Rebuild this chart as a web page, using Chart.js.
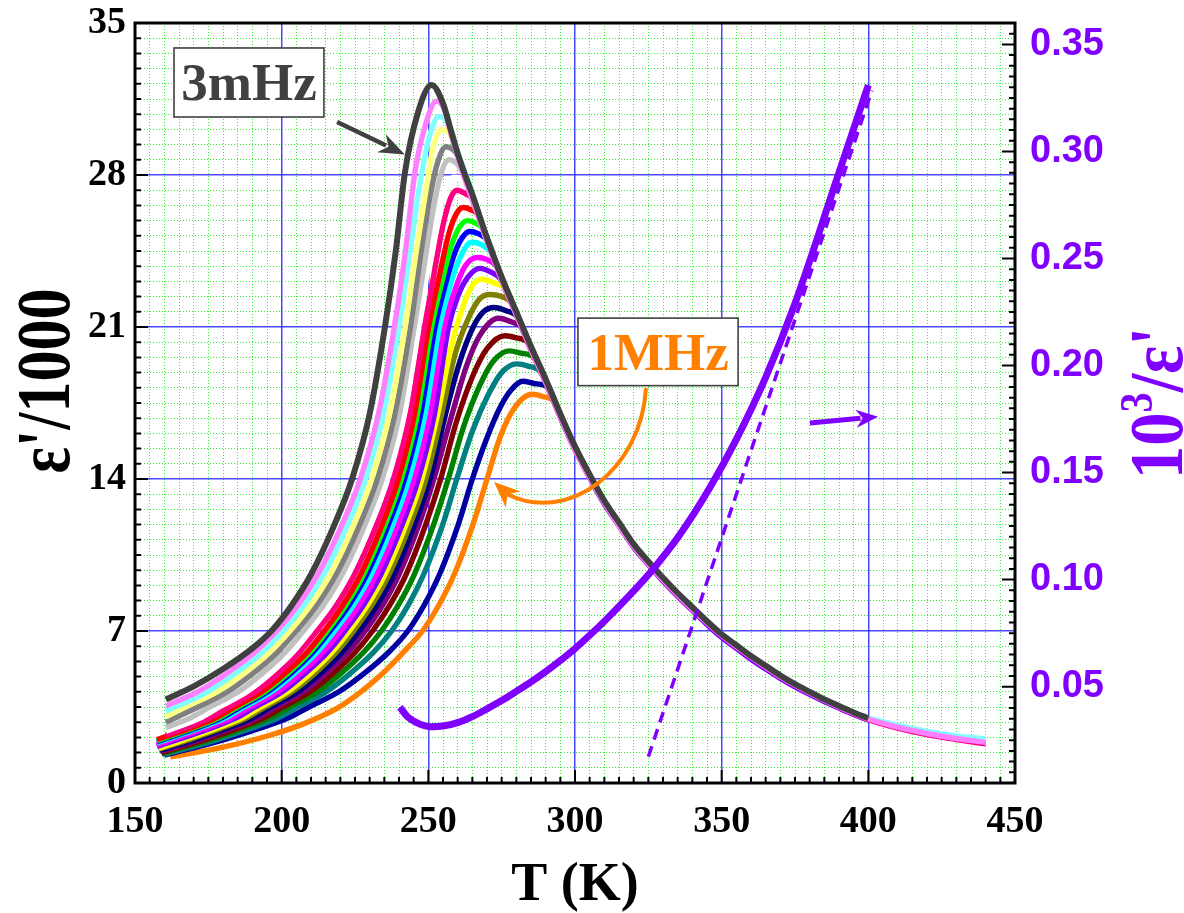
<!DOCTYPE html>
<html>
<head>
<meta charset="utf-8">
<script src="https://cdn.jsdelivr.net/npm/chart.js@4.4.1/dist/chart.umd.min.js"></script>
<style>
  html, body { margin: 0; padding: 0; background: #fff; }
  #wrap { width: 1184px; height: 913px; }
</style>
</head>
<body>
<div id="wrap"><canvas id="chart" width="1184" height="913"></canvas></div>
<script>
const SERIF = '"Liberation Serif", "Times New Roman", serif';
const SANS = '"Liberation Sans", Arial, sans-serif';
const PURPLE = '#8000ff';

// axis ticks
const xTicks = [150, 200, 250, 300, 350, 400, 450];
const yTicks = [0, 7, 14, 21, 28, 35];
const y2Ticks = [0.05, 0.10, 0.15, 0.20, 0.25, 0.30, 0.35];

// eps'/1000 curves, 3mHz (top) down to 1MHz (bottom)
const curveColors = [
    '#404040', '#ff80ff', '#80ffff', '#ffff80', '#808080', '#c0c0c0', '#ffffff', '#ff0080',
    '#ff0000', '#00ff00', '#0000ff', '#00ffff', '#ff00ff', '#8000ff', '#ffff00', '#808000',
    '#000080', '#800080', '#800000', '#008000', '#008080', '#0000a0', '#ff8000'
];

const curveTemps = [
    [160.5, 170, 180, 190, 196.5, 203.5, 210, 218, 224, 230, 235.2, 239, 242, 246.5, 251.1, 255, 257.4, 260, 262, 265, 270, 275, 280, 285, 290, 295, 300, 305, 310, 315, 320, 325, 330, 335, 340, 345, 350, 355, 360, 365, 370, 375, 380, 385, 390, 395, 400],
    [160.5, 171.3, 180.75, 190.65, 198.3, 205.6, 212.3, 220.6, 226.8, 233, 238.4, 242.3, 245.4, 249, 252.8, 255.5, 258, 262, 266, 270, 275, 280, 285, 290, 295, 300, 310, 320, 330, 340, 350, 360, 370, 380, 390, 400, 410, 420, 430, 440],
    [160.5, 174.7, 183.8, 193.3, 200.6, 207.7, 214.3, 222.5, 228.6, 234.7, 240, 243.9, 247, 250, 253.7, 257, 260, 264, 268, 272, 276, 280, 285, 290, 295, 300, 310, 320, 330, 340, 350, 360, 370, 380, 390, 400, 410, 420, 430, 440],
    [160.5, 167.1, 177.9, 186.6, 195.7, 202.8, 209.9, 216.5, 224.6, 230.7, 236.8, 242.1, 246, 249.2, 251.5, 254.6, 258, 262, 266, 270],
    [160.5, 171.5, 181.6, 189.8, 198.4, 205, 212.1, 218.6, 226.6, 232.6, 238.6, 243.9, 247.7, 250.3, 253, 256, 260, 264, 268, 272],
    [160.5, 168.9, 175.6, 185.2, 193, 201.1, 207.4, 214.3, 220.6, 228.4, 234.3, 240.2, 245.2, 249, 251.8, 254.2, 257, 261, 265, 270],
    [160.5, 172.3, 178.7, 188.1, 195.7, 203.6, 209.7, 216.4, 222.6, 230.3, 236, 241.7, 246.7, 250, 253, 255.6, 258.5, 263.5, 268],
    [160.5, 166.5, 175.6, 181.9, 191, 198.4, 206, 212, 218.7, 224.8, 232.4, 238.1, 243.8, 248.7, 252, 255.2, 257.8, 259.9, 263, 265.5, 268, 272, 276, 280, 285, 290, 295, 300, 310, 320, 330, 340, 350, 360, 370, 380, 390, 400, 410, 420, 430, 440],
    [157.5, 168.3, 177.6, 184, 193.2, 200.7, 208.5, 214.5, 220.9, 226.9, 234.3, 239.8, 245.3, 250.1, 253.5, 257, 259.5, 261.9, 264.5, 267, 270, 274],
    [157.5, 169.3, 178.6, 185, 194.2, 201.7, 209.5, 215.5, 221.9, 227.9, 235.3, 240.8, 246.3, 251.1, 254.5, 258, 260.6, 263.3, 266, 268.7, 272, 276],
    [157.5, 170.3, 179.6, 186, 195.2, 202.7, 210.5, 216.5, 223, 229, 236.4, 241.9, 247.4, 252.3, 255.5, 259, 261.5, 264, 267, 270, 274, 278],
    [157.5, 171.5, 180.8, 187.2, 196.5, 204, 211.9, 218, 224.5, 230.5, 237.9, 243.4, 248.9, 253.8, 257, 260.5, 264.8, 268, 271.5, 275, 279],
    [157.3, 173.4, 182.7, 189.2, 198.5, 206, 213.9, 220, 226.4, 232.3, 239.6, 245.1, 250.6, 255.4, 258.8, 262.5, 266.8, 270, 273.5, 277, 281],
    [157.5, 175.3, 184.5, 190.9, 200.2, 207.6, 215.5, 221.5, 227.9, 233.8, 241.1, 246.6, 252.1, 256.9, 260, 263.5, 267.6, 271, 275, 280, 285, 290, 295, 300, 305, 310, 315, 320, 325, 330, 335, 340, 345, 350, 355, 360, 365, 370, 375, 380, 385, 390, 395, 400],
    [158, 167, 177.5, 186.6, 192.9, 202, 209.4, 217, 223, 229.3, 235.2, 242.4, 247.8, 253.2, 258, 262.5, 265.5, 268.5, 272, 276.5, 280, 284],
    [158, 168.5, 179, 188.1, 194.4, 203.5, 210.9, 218.5, 224.5, 230.8, 236.6, 243.8, 249.2, 254.6, 259, 264, 267.5, 271, 275, 278.5, 282, 286],
    [158.5, 170.5, 181, 190.1, 196.4, 205.5, 212.9, 220.5, 226.5, 232.6, 238.3, 245.3, 250.6, 255.9, 260.5, 265.3, 268.8, 272.4, 276.5, 280.5, 284, 288],
    [158.5, 171.9, 182.5, 191.7, 198.1, 207.3, 214.7, 222.5, 228.5, 234.5, 240, 246.8, 251.9, 257.5, 263, 267.5, 273.9, 278, 282, 286, 290],
    [159, 174, 184.7, 193.9, 200.3, 209.6, 217.1, 224.9, 231, 236.9, 242.4, 249.1, 254.2, 259.5, 265, 270, 276.1, 280, 284.2, 288, 292],
    [159, 175.8, 186.7, 196.1, 202.7, 212.2, 219.8, 227.8, 234, 239.8, 245.2, 251.8, 256.8, 262, 267.5, 272, 277.6, 281.5, 286.5, 290, 294],
    [159.5, 178.1, 189.2, 198.9, 205.5, 215.2, 223, 231.2, 237.5, 243.2, 248.4, 254.9, 259.7, 265, 270.5, 275, 280.1, 284, 288.5, 292, 296],
    [160, 180.4, 192.1, 202.3, 209.3, 219.5, 227.7, 236.3, 243, 248.6, 253.8, 260.2, 265, 270, 274.5, 278.2, 282.2, 286, 291, 295, 299],
    [162, 180, 196, 207, 219, 227, 234, 241, 248, 253.6, 258.8, 265.2, 270, 274.4, 279, 285.3, 289, 293, 297, 301]
];

const curveEps = [
    [3.85, 4.45, 5.25, 6.2, 7.0, 8.2, 9.6, 11.9, 14.0, 17.0, 21.0, 24.6, 28.1, 30.9, 32.15, 31.3, 30.2, 29.0, 28.2, 27.1, 25.1, 23.3, 21.7, 20.1, 18.6, 17.0, 15.5, 14.2, 13.0, 12.0, 11.0, 10.2, 9.45, 8.75, 8.1, 7.45, 6.85, 6.35, 5.85, 5.4, 4.95, 4.55, 4.2, 3.85, 3.55, 3.25, 2.98],
    [3.55, 4.2, 5.0, 6.0, 7.0, 8.2, 9.6, 11.9, 14.0, 17.0, 21.0, 24.6, 28.1, 30.3, 31.4, 31.0, 29.75, 28.0, 26.45, 24.95, 23.15, 21.55, 19.95, 18.45, 16.85, 15.35, 12.9, 10.9, 9.35, 8.0, 6.8, 5.8, 4.9, 4.15, 3.5, 2.95, 2.57, 2.28, 2.05, 1.87],
    [3.3, 4.2, 5.0, 6.0, 7.0, 8.2, 9.6, 11.9, 14.0, 17.0, 21.0, 24.6, 27.5, 29.6, 30.7, 30.3, 29.05, 27.55, 25.9, 24.3, 22.85, 21.65, 20.05, 18.55, 16.95, 15.45, 12.95, 10.95, 9.4, 8.05, 6.85, 5.85, 4.95, 4.2, 3.55, 3.0, 2.65, 2.38, 2.17, 2.03],
    [3.05, 3.5, 4.2, 5.0, 6.0, 7.0, 8.2, 9.6, 11.9, 14.0, 17.0, 21.0, 24.6, 27.3, 29.2, 30.1, 29.75, 28.1, 26.6, 24.9],
    [2.8, 3.5, 4.2, 5.0, 6.0, 7.0, 8.2, 9.6, 11.9, 14.0, 17.0, 21.0, 24.6, 26.8, 28.5, 29.3, 28.9, 27.45, 25.85, 24.35],
    [2.55, 3.0, 3.5, 4.2, 5.0, 6.0, 7.0, 8.2, 9.6, 11.9, 14.0, 17.0, 21.0, 24.2, 26.5, 28.0, 28.7, 28.3, 26.95, 25.0],
    [2.38, 3.0, 3.5, 4.2, 5.0, 6.0, 7.0, 8.2, 9.6, 11.9, 14.0, 17.0, 21.0, 23.8, 26.0, 27.3, 27.9, 27.55, 25.75],
    [2.2, 2.5, 3.0, 3.5, 4.2, 5.0, 6.0, 7.0, 8.2, 9.6, 11.9, 14.0, 17.0, 21.0, 23.5, 25.8, 27.0, 27.3, 27.1, 26.85, 25.8, 24.3, 22.8, 21.55, 19.95, 18.45, 16.85, 15.35, 12.9, 10.9, 9.35, 8.0, 6.8, 5.8, 4.9, 4.15, 3.5, 2.92, 2.53, 2.23, 2.0, 1.8],
    [2.0, 2.5, 3.0, 3.5, 4.2, 5.0, 6.0, 7.0, 8.2, 9.6, 11.9, 14.0, 17.0, 21.0, 23.2, 25.3, 26.2, 26.5, 26.4, 26.15, 25.0, 23.6],
    [1.95, 2.5, 3.0, 3.5, 4.2, 5.0, 6.0, 7.0, 8.2, 9.6, 11.9, 14.0, 17.0, 21.0, 23.0, 24.8, 25.6, 25.9, 25.8, 25.5, 24.35, 22.9],
    [1.9, 2.5, 3.0, 3.5, 4.2, 5.0, 6.0, 7.0, 8.2, 9.6, 11.9, 14.0, 17.0, 21.0, 22.8, 24.4, 25.1, 25.4, 25.3, 25.0, 23.6, 22.3],
    [1.85, 2.5, 3.0, 3.5, 4.2, 5.0, 6.0, 7.0, 8.2, 9.6, 11.9, 14.0, 17.0, 21.0, 22.7, 24.1, 24.9, 24.8, 24.4, 23.2, 21.9],
    [1.75, 2.5, 3.0, 3.5, 4.2, 5.0, 6.0, 7.0, 8.2, 9.6, 11.9, 14.0, 17.0, 21.0, 22.6, 23.8, 24.2, 24.1, 23.75, 22.55, 21.3],
    [1.68, 2.5, 3.0, 3.5, 4.2, 5.0, 6.0, 7.0, 8.2, 9.6, 11.9, 14.0, 17.0, 21.0, 22.4, 23.3, 23.7, 23.55, 23.15, 21.55, 19.95, 18.45, 16.85, 15.35, 14.05, 12.85, 11.85, 10.85, 10.05, 9.3, 8.6, 7.95, 7.3, 6.7, 6.2, 5.7, 5.25, 4.82, 4.43, 4.08, 3.75, 3.45, 3.16, 2.9],
    [1.6, 2.0, 2.5, 3.0, 3.5, 4.2, 5.0, 6.0, 7.0, 8.2, 9.6, 11.9, 14.0, 17.0, 20.2, 22.2, 23.0, 23.2, 23.05, 22.7, 21.6, 20.3],
    [1.55, 2.0, 2.5, 3.0, 3.5, 4.2, 5.0, 6.0, 7.0, 8.2, 9.6, 11.9, 14.0, 17.0, 19.7, 21.5, 22.3, 22.5, 22.4, 22.1, 21.0, 19.7],
    [1.5, 2.0, 2.5, 3.0, 3.5, 4.2, 5.0, 6.0, 7.0, 8.2, 9.6, 11.9, 14.0, 17.0, 19.3, 21.0, 21.7, 21.9, 21.75, 21.45, 20.3, 19.05],
    [1.45, 2.0, 2.5, 3.0, 3.5, 4.2, 5.0, 6.0, 7.0, 8.2, 9.6, 11.9, 14.0, 16.7, 19.2, 20.6, 21.4, 21.25, 20.95, 19.7, 18.5],
    [1.4, 2.0, 2.5, 3.0, 3.5, 4.2, 5.0, 6.0, 7.0, 8.2, 9.6, 11.9, 14.0, 16.6, 18.7, 20.0, 20.6, 20.5, 20.25, 19.05, 17.95],
    [1.35, 2.0, 2.5, 3.0, 3.5, 4.2, 5.0, 6.0, 7.0, 8.2, 9.6, 11.9, 14.0, 16.4, 18.3, 19.4, 19.9, 19.8, 19.55, 18.45, 17.2],
    [1.3, 2.0, 2.5, 3.0, 3.5, 4.2, 5.0, 6.0, 7.0, 8.2, 9.6, 11.9, 14.0, 16.2, 17.9, 18.9, 19.3, 19.2, 18.9, 17.85, 16.6],
    [1.28, 2.0, 2.5, 3.0, 3.5, 4.2, 5.0, 6.0, 7.0, 8.2, 9.6, 11.9, 14.0, 15.9, 17.3, 18.1, 18.5, 18.4, 18.2, 16.85, 15.65],
    [1.2, 1.65, 2.2, 2.7, 3.45, 4.2, 5.0, 5.95, 7.0, 8.2, 9.6, 11.9, 14.0, 15.9, 17.2, 17.9, 17.8, 17.55, 16.3, 15.05]
];

// 10^3/eps' (right axis) and its linear fit
const invTemps = [240.3, 243, 246, 250.6, 255, 260, 265, 270, 275, 280, 285, 290, 295, 300, 305, 310, 317.6, 326.7, 336, 346, 355, 365, 375, 389, 400];
const invValues = [0.0404, 0.0358, 0.0332, 0.0313, 0.0316, 0.0332, 0.0360, 0.0396, 0.0435, 0.0478, 0.0522, 0.0570, 0.0622, 0.0678, 0.0740, 0.0805, 0.0912, 0.1050, 0.1215, 0.1430, 0.1655, 0.1945, 0.2290, 0.2860, 0.3310];
const fitTemps = [325, 401.2];
const fitValues = [0.0173, 0.3285];

function toPoints(xs, ys) {
    return xs.map((t, i) => ({ x: t, y: ys[i] }));
}

const datasets = [
    {
        label: '10³/ε\'',
        data: toPoints(invTemps, invValues),
        xAxisID: 'x', yAxisID: 'y2',
        borderColor: PURPLE, borderWidth: 7,
        pointRadius: 0, cubicInterpolationMode: 'monotone'
    },
    {
        label: 'fit',
        data: toPoints(fitTemps, fitValues),
        xAxisID: 'x', yAxisID: 'y2',
        borderColor: PURPLE, borderWidth: 3.5, borderDash: [11, 7],
        pointRadius: 0
    }
];
curveColors.forEach((color, i) => {
    datasets.push({
        label: 'f' + i,
        data: toPoints(curveTemps[i], curveEps[i]),
        xAxisID: 'x', yAxisID: 'y',
        borderColor: color,
        borderWidth: i === 0 ? 6 : 5.4,
        pointRadius: 0,
        cubicInterpolationMode: 'monotone'
    });
});

const minorX = [];
for (let k = 1; k < 60; k++) if (k % 10 !== 0) minorX.push(150 + k * 5);
const minorY = [];
for (let k = 1; k < 50; k++) if (k % 10 !== 0) minorY.push(k * 0.7);

const GREEN_DOT = 'rgba(0, 235, 0, 0.8)';
const BLUE_GRID = 'rgba(40, 40, 255, 0.85)';

function noPadding(s) {
    s.paddingTop = 0;
    s.paddingBottom = 0;
    s.paddingLeft = 0;
    s.paddingRight = 0;
}

function drawHead(ctx, x2, y2, ang, headLen, headHalf) {
    const bx = x2 - headLen * Math.cos(ang);
    const by = y2 - headLen * Math.sin(ang);
    const nx = x2 - headLen * 0.7 * Math.cos(ang);
    const ny = y2 - headLen * 0.7 * Math.sin(ang);
    ctx.beginPath();
    ctx.moveTo(x2, y2);
    ctx.lineTo(bx + headHalf * Math.sin(ang), by - headHalf * Math.cos(ang));
    ctx.lineTo(nx, ny);
    ctx.lineTo(bx - headHalf * Math.sin(ang), by + headHalf * Math.cos(ang));
    ctx.closePath();
    ctx.fill();
}

function drawArrow(ctx, x1, y1, x2, y2, color, width, headLen, headHalf) {
    const ang = Math.atan2(y2 - y1, x2 - x1);
    const bx = x2 - headLen * 0.8 * Math.cos(ang);
    const by = y2 - headLen * 0.8 * Math.sin(ang);
    ctx.save();
    ctx.strokeStyle = color;
    ctx.fillStyle = color;
    ctx.lineWidth = width;
    ctx.beginPath();
    ctx.moveTo(x1, y1);
    ctx.lineTo(bx, by);
    ctx.stroke();
    drawHead(ctx, x2, y2, ang, headLen, headHalf);
    ctx.restore();
}

function labelBox(ctx, x1, y1, x2, y2, text, color) {
    ctx.save();
    ctx.fillStyle = '#fff';
    ctx.fillRect(x1, y1, x2 - x1, y2 - y1);
    ctx.strokeStyle = '#404040';
    ctx.lineWidth = 1.6;
    ctx.strokeRect(x1, y1, x2 - x1, y2 - y1);
    ctx.fillStyle = color;
    ctx.font = 'bold 53px ' + SERIF;
    ctx.textAlign = 'center';
    ctx.textBaseline = 'alphabetic';
    ctx.fillText(text, (x1 + x2) / 2, (y1 + y2) / 2 + 18);
    ctx.restore();
}

// rotated title, reading bottom to top, squeezed to a given length
function rotatedTitle(ctx, cx, cy, parts, color, length) {
    ctx.save();
    ctx.translate(cx, cy);
    ctx.rotate(-Math.PI / 2);
    ctx.fillStyle = color;
    ctx.textBaseline = 'alphabetic';
    ctx.textAlign = 'left';
    let total = 0;
    parts.forEach(p => {
        ctx.font = 'bold ' + p.size + 'px ' + SERIF;
        p.w = ctx.measureText(p.text).width;
        total += p.w;
    });
    ctx.scale(length / total, 1);
    let pos = -total / 2;
    parts.forEach(p => {
        ctx.font = 'bold ' + p.size + 'px ' + SERIF;
        ctx.fillText(p.text, pos, 25 - (p.raise || 0));
        pos += p.w;
    });
    ctx.restore();
}

const decorations = {
    id: 'decorations',
    afterDraw(chart) {
        const { ctx, chartArea: a, scales: { x, y, y2 } } = chart;
        const px = t => x.getPixelForValue(t);
        const py = v => y.getPixelForValue(v);

        // frame and inward ticks
        ctx.save();
        ctx.strokeStyle = '#000';
        ctx.lineWidth = 2;
        ctx.beginPath();
        for (let k = 0; k <= 60; k++) {
            const xx = px(150 + k * 5);
            const len = k % 10 === 0 ? 13 : 6;
            ctx.moveTo(xx, a.bottom);
            ctx.lineTo(xx, a.bottom - len);
        }
        for (let k = 0; k <= 50; k++) {
            const yy = py(k * 0.7);
            const len = k % 10 === 0 ? 13 : 6;
            ctx.moveTo(a.left, yy);
            ctx.lineTo(a.left + len, yy);
        }
        for (let k = 1; k <= 72; k++) {
            const yy = y2.getPixelForValue(k * 0.005);
            const len = k % 10 === 0 ? 13 : 6;
            ctx.moveTo(a.right, yy);
            ctx.lineTo(a.right - len, yy);
        }
        ctx.stroke();
        ctx.lineWidth = 3;
        ctx.strokeRect(a.left, a.top, a.right - a.left, a.bottom - a.top);
        ctx.restore();

        // 3mHz label and arrow
        labelBox(ctx, px(163.3), py(33.85), px(214.4), py(30.67), '3mHz', '#404040');
        drawArrow(ctx, px(218.9), py(30.44), px(242.0), py(28.94), '#404040', 4.5, 26, 10);

        // 1MHz label and curved arrow
        labelBox(ctx, px(301.0), py(21.41), px(355.6), py(18.30), '1MHz', '#ff8000');
        ctx.save();
        ctx.strokeStyle = '#ff8000';
        ctx.fillStyle = '#ff8000';
        ctx.lineWidth = 4;
        const sx0 = px(324.2), sy0 = py(18.19);
        const c1x = px(322.6), c1y = py(14.4);
        const c2x = px(297.7), c2y = py(11.9);
        const ex = px(272.4), ey = py(13.86);
        const ang = Math.atan2(ey - py(12.8), ex - px(281.0));
        const hx = ex - 18 * Math.cos(ang), hy = ey - 18 * Math.sin(ang);
        ctx.beginPath();
        ctx.moveTo(sx0, sy0);
        ctx.bezierCurveTo(c1x, c1y, c2x, c2y, hx, hy);
        ctx.stroke();
        drawHead(ctx, ex, ey, ang, 26, 11);
        ctx.restore();

        // purple arrow toward the right axis
        drawArrow(ctx, px(380.1), py(16.58), px(403.3), py(16.87), PURPLE, 5, 22, 9);

        // axis titles
        rotatedTitle(ctx, 44, (a.top + a.bottom) / 2 - 22,
            [{ text: 'ε\'/1000', size: 76 }], '#000', 185);
        rotatedTitle(ctx, chart.width - 27, (a.top + a.bottom) / 2,
            [{ text: '10', size: 76 }, { text: '3', size: 46, raise: 30 }, { text: '/ε\'', size: 76 }],
            PURPLE, 152);
    }
};

new Chart(document.getElementById('chart'), {
    type: 'line',
    data: { datasets: datasets },
    options: {
        responsive: false,
        animation: false,
        devicePixelRatio: 1,
        layout: { padding: { top: 23, left: 0, right: 0, bottom: 0 } },
        plugins: { legend: { display: false }, tooltip: { enabled: false } },
        scales: {
            x: {
                type: 'linear', position: 'bottom', min: 150, max: 450,
                afterBuildTicks: s => { s.ticks = xTicks.map(v => ({ value: v })); },
                afterFit: s => { s.height = 130; noPadding(s); },
                grid: { color: BLUE_GRID, lineWidth: 1.5, drawTicks: false },
                border: { display: false },
                ticks: {
                    autoSkip: false, maxRotation: 0, padding: 16, color: '#000',
                    font: { family: SERIF, size: 38, weight: 'bold' }
                },
                title: {
                    display: true, text: 'T (K)', color: '#000',
                    font: { family: SERIF, size: 54, weight: 'bold', lineHeight: 1 },
                    padding: { top: 0, bottom: 0 }
                }
            },
            xMinor: {
                axis: 'x', type: 'linear', position: 'bottom', min: 150, max: 450,
                afterBuildTicks: s => { s.ticks = minorX.map(v => ({ value: v })); },
                afterFit: s => { s.height = 0; noPadding(s); },
                grid: { color: GREEN_DOT, lineWidth: 1, drawTicks: false },
                border: { display: false, dash: [1, 2] },
                ticks: { display: false }
            },
            y: {
                type: 'linear', position: 'left', min: 0, max: 35,
                afterBuildTicks: s => { s.ticks = yTicks.map(v => ({ value: v })); },
                afterFit: s => { s.width = 135; noPadding(s); },
                grid: { color: BLUE_GRID, lineWidth: 1.5, drawTicks: false },
                border: { display: false },
                ticks: {
                    padding: 9, color: '#000',
                    font: { family: SERIF, size: 38, weight: 'bold' }
                }
            },
            yMinor: {
                axis: 'y', type: 'linear', position: 'left', min: 0, max: 35,
                afterBuildTicks: s => { s.ticks = minorY.map(v => ({ value: v })); },
                afterFit: s => { s.width = 0; noPadding(s); },
                grid: { color: GREEN_DOT, lineWidth: 1, drawTicks: false },
                border: { display: false, dash: [1, 2] },
                ticks: { display: false }
            },
            y2: {
                type: 'linear', position: 'right', min: 0.005, max: 0.36,
                afterBuildTicks: s => { s.ticks = y2Ticks.map(v => ({ value: v })); },
                afterFit: s => { s.width = 169; noPadding(s); },
                grid: { display: false, drawTicks: false },
                border: { display: false },
                ticks: {
                    padding: 15, color: PURPLE,
                    font: { family: SANS, size: 38, weight: 'bold' },
                    callback: v => v.toFixed(2)
                }
            }
        }
    },
    plugins: [decorations]
});
</script>
</body>
</html>
